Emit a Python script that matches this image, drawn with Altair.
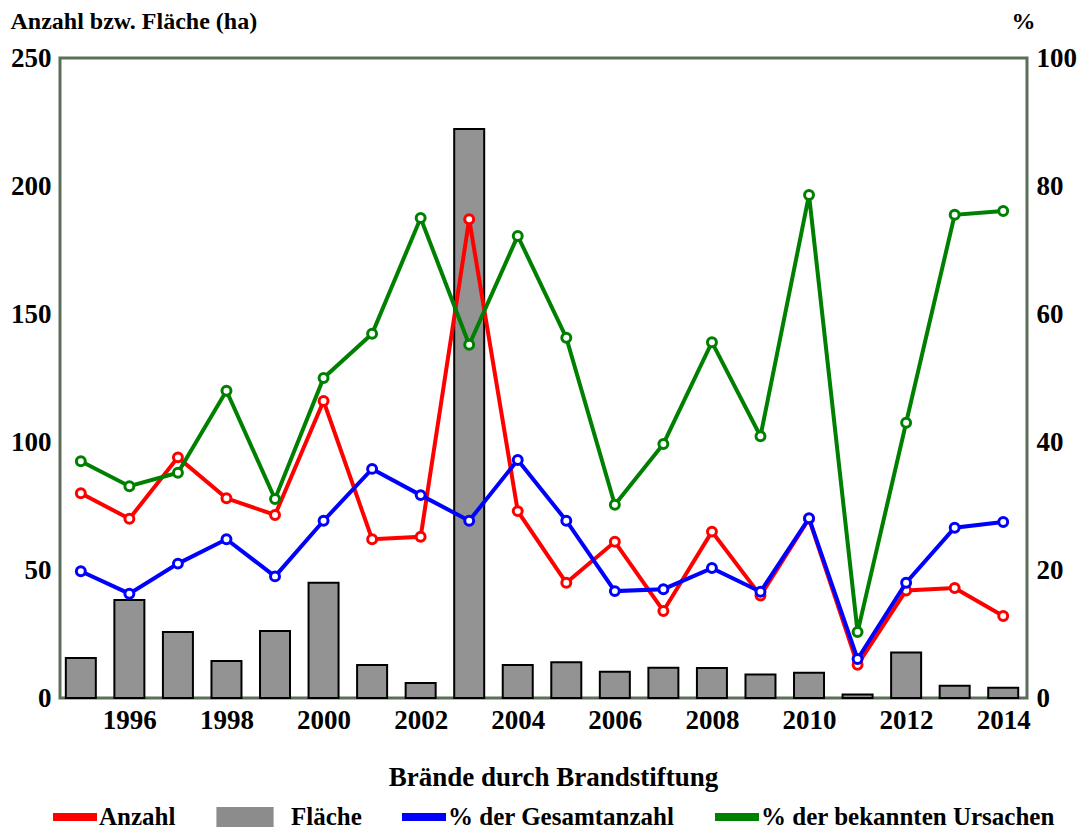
import altair as alt
import pandas as pd

years = list(range(1995, 2015))
anzahl = [80, 70, 94, 78, 71.5, 116, 62, 63, 187, 73, 45, 61, 34, 65, 40, 70, 13, 42, 43, 32]
flaeche = [15.6, 38.3, 25.8, 14.5, 26.2, 45, 12.9, 5.9, 222.3, 12.9, 14, 10.3, 11.8, 11.7, 9.2, 9.9, 1.4, 17.8, 4.8, 4.0]
pct_gesamt = [19.8, 16.3, 21.0, 24.8, 19.0, 27.7, 35.8, 31.7, 27.7, 37.2, 27.7, 16.7, 17.0, 20.3, 16.6, 28.1, 6.1, 18.0, 26.6, 27.5]
pct_bekannt = [37.0, 33.1, 35.2, 48.0, 31.1, 50.0, 56.9, 75.0, 55.2, 72.2, 56.3, 30.2, 39.7, 55.6, 40.9, 78.6, 10.3, 43.0, 75.5, 76.1]

legend_names = ["Anzahl", "Fläche", "% der Gesamtanzahl", "% der bekannten Ursachen"]
legend_colors = ["#ff0000", "#8c8c8c", "#0000ff", "#008000"]

FONT = "Liberation Serif"

df = pd.DataFrame({"Jahr": years, "Anzahl": anzahl, "Flaeche": flaeche,
                   "PG": pct_gesamt, "PB": pct_bekannt})
leg_df = pd.DataFrame({"series": legend_names})

xscale = alt.Scale(domain=[1994.674, 2014.387], nice=False, zero=False)
xenc = alt.X("Jahr:Q", scale=xscale,
             axis=alt.Axis(values=list(range(1996, 2015, 2)), format="d",
                           title="Brände durch Brandstiftung", titleFontSize=27,
                           titleX=493, titleY=87, titleBaseline="alphabetic",
                           labelPadding=9))

yleft_scale = alt.Scale(domain=[0, 250], nice=False)
yleft_axis = alt.Axis(values=[0, 50, 100, 150, 200, 250], title="Anzahl bzw. Fläche (ha)",
                      titleAngle=0, titleAlign="left", titleX=-50, titleY=-30,
                      titleBaseline="alphabetic", titleFontSize=24, labelPadding=9)
yright_scale = alt.Scale(domain=[0, 100], nice=False)
yright_axis = alt.Axis(orient="right", values=[0, 20, 40, 60, 80, 100], title="%",
                       titleAngle=0, titleAlign="left", titleX=-16, titleY=-30,
                       titleBaseline="alphabetic", titleFontSize=24, labelPadding=9)

base = alt.Chart(df)

bars = base.mark_bar(size=30, fill="#939393", stroke="black", strokeWidth=2).encode(
    x=xenc, y=alt.Y("Flaeche:Q", scale=yleft_scale, axis=yleft_axis))


def line_layer(field, color, yscale, yaxis):
    y = alt.Y(f"{field}:Q", scale=yscale, axis=yaxis)
    ln = base.mark_line(color=color, strokeWidth=4).encode(x=xenc, y=y)
    pt = base.mark_point(shape="circle", filled=True, fill="white", stroke=color,
                         strokeWidth=3, size=80, opacity=1).encode(x=xenc, y=y)
    return ln + pt


red = line_layer("Anzahl", "#ff0000", yleft_scale, yleft_axis)
blue = line_layer("PG", "#0000ff", yright_scale, yright_axis)
green = line_layer("PB", "#008000", yright_scale, yright_axis)

line_path = "M-1,-0.18H1V0.18H-1Z"
rect_path = "M-2.3,-0.46H0.3V0.46H-2.3Z"

leg = alt.Legend(orient="none", legendX=-7, legendY=737,
                 direction="horizontal", columns=4,
                 title=None, symbolSize=1936,
                 labelFont=FONT, labelFontSize=25, labelLimit=500,
                 labelFontWeight="bold", labelColor="black",
                 labelOffset=2, columnPadding=40,
                 symbolStrokeWidth=0, symbolOpacity=1)

legend_layer = alt.Chart(leg_df).mark_point(filled=True, clip=True).encode(
    x=alt.datum(1900),
    y=alt.datum(-1000),
    color=alt.Color("series:N",
                    scale=alt.Scale(domain=legend_names, range=legend_colors),
                    legend=leg),
    shape=alt.Shape("series:N",
                    scale=alt.Scale(domain=legend_names,
                                    range=[line_path, rect_path, line_path, line_path]),
                    legend=leg),
)

left = alt.layer(bars, red, legend_layer)
right = alt.layer(blue, green)

chart = alt.layer(left, right).resolve_scale(y="independent").properties(
    width=967, height=640, autosize="none",
    padding={"left": 52, "top": 50, "right": 50, "bottom": 132},
).configure_view(stroke="#5b6e58", strokeWidth=3).configure_axis(
    labelFont=FONT, labelFontWeight="bold", labelFontSize=27, labelColor="black",
    titleFont=FONT, titleFontWeight="bold", titleColor="black",
    ticks=False, domain=False, grid=False,
)

chart.save("out.html", embed_options={"renderer": "svg", "actions": False})
